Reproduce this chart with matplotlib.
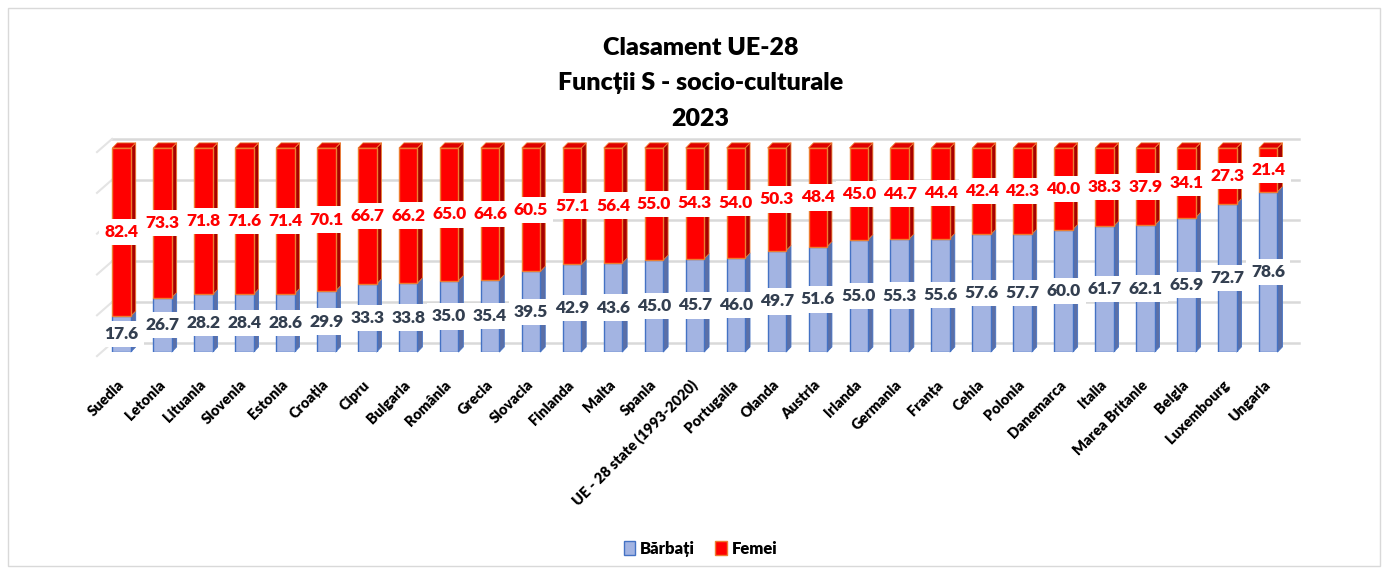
import numpy as np
import matplotlib
matplotlib.use("Agg")
from matplotlib import pyplot as plt
from matplotlib.patches import Polygon, Rectangle
from matplotlib.collections import PatchCollection

plt.rcParams['font.family'] = ['Lato', 'DejaVu Sans']

countries = ["Suedia", "Letonia", "Lituania", "Slovenia", "Estonia", "Croația", "Cipru",
             "Bulgaria", "România", "Grecia", "Slovacia", "Finlanda", "Malta", "Spania",
             "UE - 28 state (1993-2020)", "Portugalia", "Olanda", "Austria", "Irlanda",
             "Germania", "Franța", "Cehia", "Polonia", "Danemarca", "Italia",
             "Marea Britanie", "Belgia", "Luxembourg", "Ungaria"]
barbati = [17.6, 26.7, 28.2, 28.4, 28.6, 29.9, 33.3, 33.8, 35.0, 35.4, 39.5, 42.9, 43.6,
           45.0, 45.7, 46.0, 49.7, 51.6, 55.0, 55.3, 55.6, 57.6, 57.7, 60.0, 61.7, 62.1,
           65.9, 72.7, 78.6]
femei = [82.4, 73.3, 71.8, 71.6, 71.4, 70.1, 66.7, 66.2, 65.0, 64.6, 60.5, 57.1, 56.4,
         55.0, 54.3, 54.0, 50.3, 48.4, 45.0, 44.7, 44.4, 42.4, 42.3, 40.0, 38.3, 37.9,
         34.1, 27.3, 21.4]
grid_vals = [0, 20, 40, 60, 80, 100]

W, H = 1387, 570
fig = plt.figure(figsize=(W / 100, H / 100), dpi=100)
fig.patches.append(Rectangle((8 / W, 4 / H), 1372 / W, 558 / H, transform=fig.transFigure,
                             fill=False, edgecolor='#D9D9D9', lw=1))

ax = fig.add_axes([97 / W, 218 / H, 1202 / W, 204 / H])
x = np.arange(len(countries))
ax.set_xlim(-0.6, 28.75)
ax.set_ylim(0, 100)

w = 0.45
dx, dy = 0.12, 2.5      # bar depth
gdx, gdy = 0.37, 4.5    # back wall offset

# back wall gridlines + left floor edges
for v in grid_vals:
    ax.plot([-0.6 + gdx, 28.75], [v + gdy, v + gdy], color='#D9D9D9', lw=1.8,
            clip_on=False, zorder=0)
    ax.plot([-0.6, -0.6 + gdx], [v - 2, v + gdy], color='#E4E4E4', lw=1.5,
            clip_on=False, zorder=0)

m = np.array(barbati)
f = np.array(femei)

ax.bar(x, m, width=w, color='#A3B4E2', edgecolor='#4472C4', lw=1, zorder=2)
ax.bar(x, f, width=w, bottom=m, color='#FF0000', edgecolor='#ED7D31', lw=1, zorder=2)

side_m, side_f, tops = [], [], []
for xi, mi, fi in zip(x, m, f):
    r = xi + w / 2
    side_m.append(Polygon([(r, 0), (r + dx, dy), (r + dx, mi + dy), (r, mi)]))
    side_f.append(Polygon([(r, mi), (r + dx, mi + dy), (r + dx, mi + fi + dy), (r, mi + fi)]))
    tops.append(Polygon([(xi - w / 2, mi + fi), (r, mi + fi), (r + dx, mi + fi + dy),
                         (xi - w / 2 + dx, mi + fi + dy)]))
ax.add_collection(PatchCollection(side_m, facecolor='#5B6FA6', edgecolor='#4472C4',
                                  lw=0.6, zorder=1, clip_on=False))
ax.add_collection(PatchCollection(side_f, facecolor='#A80000', edgecolor='#ED7D31',
                                  lw=0.6, zorder=1, clip_on=False))
ax.add_collection(PatchCollection(tops, facecolor='#E00000', edgecolor='#ED7D31',
                                  lw=0.6, zorder=3, clip_on=False))

box = dict(boxstyle='square,pad=0.3', facecolor='white', edgecolor='none')
for xi, mi, fi in zip(x, m, f):
    ax.text(xi, mi / 2, f'{mi:.1f}', ha='center', va='center', fontsize=12.5,
            fontweight='heavy', color='#333F50', bbox=box, zorder=4)
    ax.text(xi, mi + fi / 2, f'{fi:.1f}', ha='center', va='center', fontsize=12.5,
            fontweight='heavy', color='#FF0000', bbox=box, zorder=4)

ax.set_xticks(x)
ax.set_xticklabels(countries, rotation=45, ha='right', va='center', rotation_mode='anchor',
                   fontsize=10.5, fontweight='heavy')
ax.tick_params(axis='x', length=0, pad=22)
ax.set_yticks([])
for s in ax.spines.values():
    s.set_visible(False)

fig.text(0.505, 1 - 37 / H, "Clasament UE-28\nFuncții S - socio-culturale\n2023", ha='center',
         va='top', fontsize=18, fontweight='heavy', linespacing=1.75)

hm = Rectangle((0, 0), 1, 1, facecolor='#A3B4E2', edgecolor='#4472C4')
hf = Rectangle((0, 0), 1, 1, facecolor='#FF0000', edgecolor='#ED7D31')
fig.legend([hm, hf], ["Bărbați", "Femei"], loc='center', bbox_to_anchor=(0.505, 0.037),
           ncol=2, frameon=False, handlelength=0.7, handleheight=0.9, handletextpad=0.3,
           columnspacing=1.2, prop={'weight': 'heavy', 'size': 12})

fig.savefig("out.png", dpi=100)
